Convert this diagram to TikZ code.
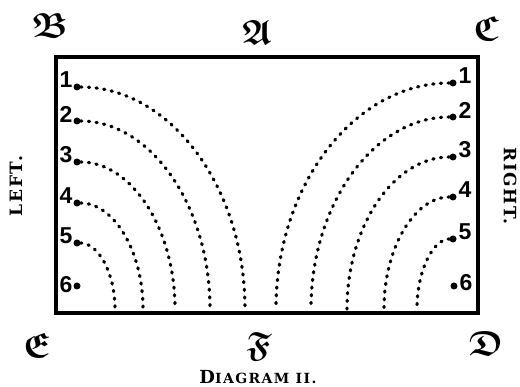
\documentclass[tikz,border=0pt]{standalone}
\usepackage{amssymb}
\usepackage{fontspec}
\newfontfamily\numfont{Liberation Sans}
\newfontfamily\capfont[LetterSpace=10]{DejaVu Serif}
\usetikzlibrary{calc}

\begin{document}
\begin{tikzpicture}[x=1pt, y=-1pt,
    corner/.style={font=\fontsize{35}{35}\selectfont\boldmath, inner sep=0pt},
    num/.style={font=\fontsize{23}{23}\selectfont\numfont\bfseries, inner sep=0pt},
    side/.style={font=\fontsize{17}{17}\selectfont\capfont\bfseries, inner sep=0pt},
    spot/.style={circle, fill=black, inner sep=0pt, minimum size=7pt},
    trail/.style={line width=3.2pt, line cap=round, dash pattern=on 1.2pt off 6.5pt}]
    \useasboundingbox (0,0) rectangle (520,387);

    % Frame
    \draw[line width=3.4pt] (56,57) rectangle (478,313);

    % Letters round the frame
    \node[corner] (B) at (50,25) {$\mathfrak{B}$};
    \node[corner] (A) at (257,32) {$\mathfrak{A}$};
    \node[corner] (C) at (486,28) {$\mathfrak{C}$};
    \node[corner] (E) at (37,345) {$\mathfrak{E}$};
    \node[corner] (F) at (259,347) {$\mathfrak{F}$};
    \node[corner] (D) at (486,343) {$\mathfrak{D}$};

    % Side words and caption
    \node[side, rotate=90] (left) at (16,186) {LEFT.};
    \node[side, rotate=-90] (right) at (510,186) {RIGHT.};
    \node[font=\fontsize{14}{14}\selectfont\capfont\bfseries] (caption) at (258,377)
        {{\fontsize{18}{18}\selectfont D}IAGRAM II.};

    % Left curves
    \foreach \i/\y/\xe in {1/87/245, 2/121/210, 3/162/175, 4/203/143, 5/243/115} {
        \node[spot] (l\i) at (77,\y) {};
        \node[num] (ln\i) at ([shift={(-11,-7)}]l\i) {\i};
        \coordinate (lb\i) at (\xe,309);
        \draw[trail] (l\i) .. controls +({0.552*(\xe-77)},0) and +(0,{0.552*(\y-309)}) .. (lb\i);
    }
    \node[spot] (l6) at (77,286) {};
    \node[num] (ln6) at ([shift={(-11,-1)}]l6) {6};

    % Right curves
    \foreach \i/\y/\xe in {1/83/276, 2/117/311, 3/157/347, 4/197/384, 5/239/417} {
        \node[spot] (r\i) at (453,\y) {};
        \node[num] (rn\i) at ([shift={(12,-7)}]r\i) {\i};
        \coordinate (rb\i) at (\xe,309);
        \draw[trail] (r\i) .. controls +({0.552*(\xe-453)},0) and +(0,{0.552*(\y-309)}) .. (rb\i);
    }
    \node[spot] (r6) at (454,286) {};
    \node[num] (rn6) at ([shift={(12,-3)}]r6) {6};

\end{tikzpicture}
\end{document}
